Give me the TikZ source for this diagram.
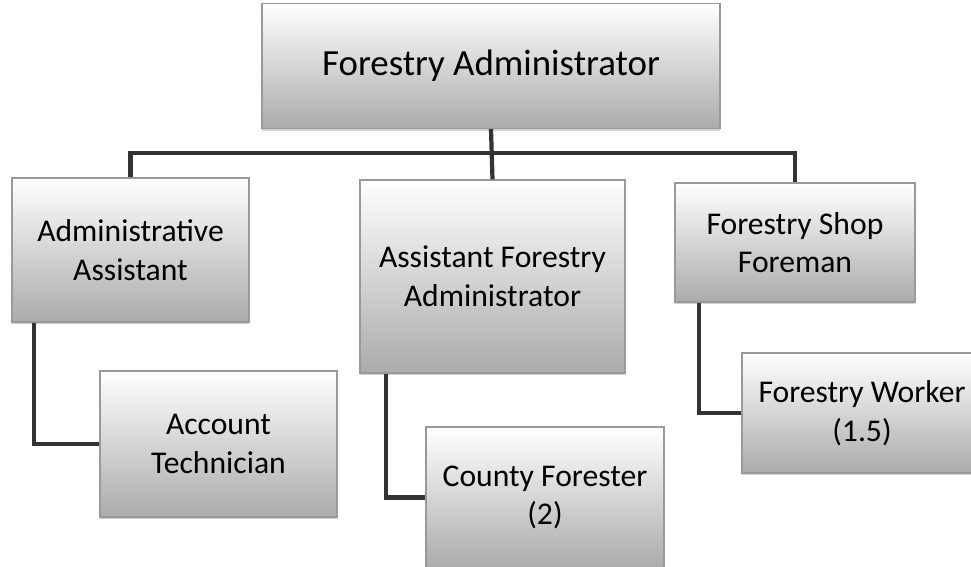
\documentclass[tikz,border=0pt]{standalone}
\usepackage{fontspec}
\setmainfont{Carlito}
\usetikzlibrary{shadows}

\def\px{0.02cm}

\begin{document}
\begin{tikzpicture}[x=\px, y=-\px]
		\tikzstyle{post}
		=[rectangle, draw=black!40, line width=0.8pt, top color=white, bottom color=black!33,
		align=center, inner sep=0pt, font=\fontsize{18}{22}\selectfont,
		drop shadow={opacity=0.35, shadow xshift=0pt, shadow yshift=-1.2pt}]
		\tikzstyle{head post}
		=[post, font=\fontsize{21}{25}\selectfont]
		\tikzstyle{link}
		=[draw=black!80, line width=2.4pt]
		
		% Fix the page to the size of the scan
		\clip (0,0) rectangle (971,567);
		\fill[white] (0,0) rectangle (971,567);
		
		% Draw the top of the chart
		\node[head post, minimum width=458*\px, minimum height=125*\px] (FA) at (491,66) {Forestry Administrator};
		
		% Draw the second row
		\node[post, minimum width=237*\px, minimum height=144*\px] (AA) at (130.5,250) {Administrative\\Assistant};
		\node[post, minimum width=265*\px, minimum height=193*\px] (AFA) at (492.5,276.5) {Assistant Forestry\\Administrator};
		\node[post, minimum width=240*\px, minimum height=119*\px] (FSF) at (795,242.5) {Forestry Shop\\Foreman};
		
		% Draw the third row
		\node[post, minimum width=237*\px, minimum height=146*\px] (AT) at (218.5,444) {Account\\Technician};
		\node[post, minimum width=238*\px, minimum height=141*\px] (CF) at (545,497.5) {County Forester\\(2)};
		\node[post, minimum width=240*\px, minimum height=120*\px] (FW) at (862,413) {Forestry Worker\\(1.5)};
		
		% Connect the top post with the second row
		\coordinate (bus) at (FA.south |- 0,153);
		\path[link] (FA.south) -- (AFA.north);
		\path[link] (AA.north) |- (bus) -| (FSF.north);
		
		% Connect the second row with the third row
		\path[link] ([xshift=23*\px]AA.south west) |- (AT.west);
		\path[link] ([xshift=27*\px]AFA.south west) |- (CF.west);
		\path[link] ([xshift=25*\px]FSF.south west) |- (FW.west);
	\end{tikzpicture}
\end{document}
